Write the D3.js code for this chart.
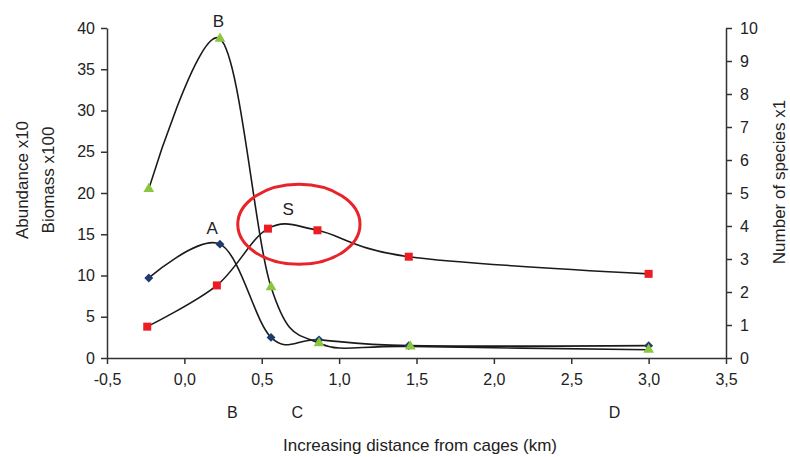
<!DOCTYPE html>
<html><head><meta charset="utf-8">
<script src="https://cdn.jsdelivr.net/npm/d3@7"></script>
<style>body{margin:0;background:#fff}svg{display:block;font-family:"Liberation Sans",Arial,sans-serif}</style>
</head><body><svg id="c" width="790" height="457"></svg>
<script>
// Data
const xAbundance = [-0.23, 0.23, 0.56, 0.87, 1.45, 3.0];
const abundance  = [9.7, 13.8, 2.5, 2.2, 1.5, 1.5];
const xBiomass   = [-0.23, 0.23, 0.56, 0.87, 1.46, 3.0];
const biomass    = [20.5, 38.7, 8.6, 1.8, 1.4, 1.0];
const xSpecies   = [-0.24, 0.21, 0.54, 0.86, 1.45, 3.0];
const species    = [0.95, 2.2, 3.92, 3.87, 3.07, 2.55];
const xTicks     = [-0.5, 0.0, 0.5, 1.0, 1.5, 2.0, 2.5, 3.0, 3.5];
const leftTicks  = [0, 5, 10, 15, 20, 25, 30, 35, 40];
const rightTicks = [0, 1, 2, 3, 4, 5, 6, 7, 8, 9, 10];
const stationLabels = [{t:"B", x:0.31}, {t:"C", x:0.73}, {t:"D", x:2.78}];
const seriesLabels  = [{t:"A", x:0.18, y:15.8}, {t:"B", x:0.22, y:40.9}, {t:"S", x:0.67, y:18.1}];
const ellipseNote   = {cx:0.74, cy:16.2, rx:0.395, ry:4.85};

const svg = d3.select("#c");
const m = {l:107, r:726, t:28, b:358};
const x = d3.scaleLinear().domain([-0.5, 3.5]).range([m.l, m.r]);
const yL = d3.scaleLinear().domain([0, 40]).range([m.b, m.t]);
const yR = d3.scaleLinear().domain([0, 10]).range([m.b, m.t]);
const fmt = d => d3.format(".1f")(d).replace(".", ",").replace("\u2212", "-");
const axisCol = "#333";

const gx = svg.append("g").attr("transform",`translate(0,${m.b})`)
  .call(d3.axisBottom(x).tickValues(xTicks).tickFormat(fmt).tickSize(6).tickSizeOuter(0).tickPadding(10));
const gl = svg.append("g").attr("transform",`translate(${m.l},0)`)
  .call(d3.axisLeft(yL).tickValues(leftTicks).tickSize(6).tickSizeOuter(0).tickPadding(6));
const gr = svg.append("g").attr("transform",`translate(${m.r},0)`)
  .call(d3.axisRight(yR).tickValues(rightTicks).tickSize(6).tickSizeOuter(0).tickPadding(8));
[gx,gl,gr].forEach(g=>{
  g.selectAll("path,line").attr("stroke",axisCol).attr("stroke-width",1.5);
  g.selectAll("text").attr("fill","#222").style("font-size","16px").style("font-family",'"Liberation Sans",Arial,sans-serif');
});

const line = (xs, ys, sc) => d3.line().curve(d3.curveCardinal.tension(0))
  .x((d,i)=>x(xs[i])).y(d=>sc(d))(ys);
function drawLine(xs, ys, sc){
  svg.append("path").attr("d", line(xs, ys, sc)).attr("fill","none")
    .attr("stroke","#1a1a1a").attr("stroke-width",1.6);
}
drawLine(xAbundance, abundance, yL);
drawLine(xBiomass, biomass, yL);
drawLine(xSpecies, species, yR);

// markers
svg.append("g").selectAll("path").data(abundance).join("path")
  .attr("d", d3.symbol(d3.symbolSquare, 40))
  .attr("transform",(d,i)=>`translate(${x(xAbundance[i])},${yL(d)}) rotate(45)`)
  .attr("fill","#1f3a70");
svg.append("g").selectAll("path").data(biomass).join("path")
  .attr("d", d3.symbol(d3.symbolTriangle, 50))
  .attr("transform",(d,i)=>`translate(${x(xBiomass[i])},${yL(d)})`)
  .attr("fill","#8cc63f");
svg.append("g").selectAll("rect").data(species).join("rect")
  .attr("x",(d,i)=>x(xSpecies[i])-4).attr("y",d=>yR(d)-4)
  .attr("width",8).attr("height",8).attr("fill","#ed1c24");

// annotation ellipse
svg.append("ellipse")
  .attr("cx", x(ellipseNote.cx)).attr("cy", yL(ellipseNote.cy))
  .attr("rx", x(ellipseNote.cx + ellipseNote.rx) - x(ellipseNote.cx))
  .attr("ry", yL(0) - yL(ellipseNote.ry))
  .attr("fill","none").attr("stroke","#e8232a").attr("stroke-width",3);

// series labels
svg.append("g").selectAll("text").data(seriesLabels).join("text")
  .attr("x", d=>x(d.x)).attr("y", d=>yL(d.y)).attr("dy","0.35em")
  .attr("text-anchor","middle").style("font-size","17px").attr("fill","#222").text(d=>d.t);

// station labels under axis
svg.append("g").selectAll("text").data(stationLabels).join("text")
  .attr("x", d=>x(d.x)).attr("y", 418)
  .attr("text-anchor","middle").style("font-size","16px").attr("fill","#222").text(d=>d.t);

// axis titles
svg.append("text").attr("x", 420).attr("y", 451).attr("text-anchor","middle")
  .style("font-size","17px").attr("fill","#222").text("Increasing distance from cages (km)");
svg.append("text").attr("transform","translate(28,180) rotate(-90)").attr("text-anchor","middle")
  .style("font-size","17px").attr("fill","#222").text("Abundance x10");
svg.append("text").attr("transform","translate(54,180) rotate(-90)").attr("text-anchor","middle")
  .style("font-size","17px").attr("fill","#222").text("Biomass x100");
svg.append("text").attr("transform","translate(785,182) rotate(-90)").attr("text-anchor","middle")
  .style("font-size","17px").attr("fill","#222").text("Number of species x1");
</script></body></html>
